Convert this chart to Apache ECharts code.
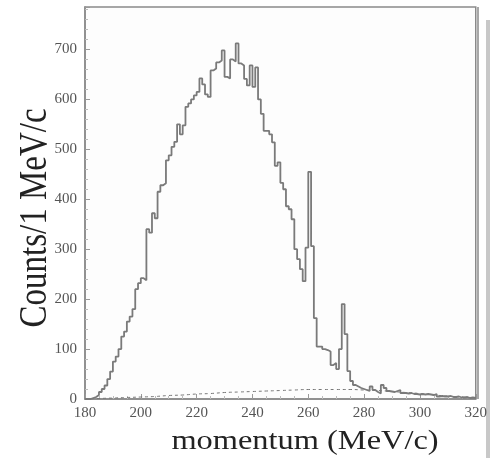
<!DOCTYPE html>
<html>
<head>
<meta charset="utf-8">
<script src="https://cdn.jsdelivr.net/npm/echarts@6/dist/echarts.min.js"></script>
<style>html,body{margin:0;padding:0;background:#fff}#c{width:490px;height:458px}</style>
</head>
<body>
<div id="c"></div>
<script>
// Histogram: 1 MeV/c bins starting at 180
var binStart = 180;
var counts = [
  0, 0, 2, 4, 8, 14, 20, 27, 40, 55,            // 180-189
  75, 85, 100, 125, 135, 155, 165, 180, 220, 232, // 190-199
  242, 238, 340, 333, 372, 362, 415, 428, 432, 478, // 200-209
  488, 505, 515, 550, 530, 548, 585, 592, 600, 608, // 210-219
  615, 642, 630, 610, 605, 658, 662, 674, 678, 698, // 220-229
  645, 642, 680, 676, 712, 672, 668, 641, 628, 668, // 230-239
  625, 664, 600, 571, 537, 537, 530, 514, 467, 474, // 240-249
  433, 420, 386, 380, 360, 300, 280, 260, 236, 303, // 250-259
  455, 306, 162, 105, 105, 100, 98, 95, 68, 72,     // 260-269
  60, 100, 190, 130, 56, 36, 28, 25, 22, 20,        // 270-279
  18, 16, 25, 18, 14, 11, 28, 22, 16, 15,           // 280-289
  14, 16, 18, 12, 12, 11, 12, 10, 10, 9,            // 290-299
  10, 9, 10, 9, 8, 10, 5, 6, 5, 5,                  // 300-309
  6, 4, 4, 5, 3, 3, 4, 2, 3, 2                      // 310-319
];
// Background estimate (dashed), read every 5 MeV/c
var bgX = [180,185,190,195,200,205,210,215,220,225,230,235,240,245,250,255,260,265,270,275,280,285,290,295,300,305,310,315,320];
var bgY = [0,1,2,3,4,5,7,8,10,11,13,14,15,16,17,18,19,19,19,19,18,17,15,13,11,8,6,4,2];
var xTicks = [180,200,220,240,260,280,300,320];
var yTicks = [0,100,200,300,400,500,600,700];

var histData = counts.map(function(v,i){return [binStart+i, v];});
histData.push([binStart+counts.length, counts[counts.length-1]]);
var bgData = bgX.map(function(x,i){return [x, bgY[i]];});

var serif = '"Liberation Serif","DejaVu Serif",serif';
var chart = echarts.init(document.getElementById('c'), null, {renderer:'canvas'});
chart.setOption({
  animation:false,
  backgroundColor:'#ffffff',
  grid:{left:85, right:12, top:7, bottom:59, show:true, borderColor:'#8a8a8a', borderWidth:1.5, backgroundColor:'#fdfdfd'},
  xAxis:{
    type:'value', min:xTicks[0], max:xTicks[xTicks.length-1], interval:20,
    axisLine:{show:true, lineStyle:{color:'#8a8a8a', width:1.5}},
    axisTick:{show:true, inside:true, length:5, lineStyle:{color:'#999'}},
    minorTick:{show:true, splitNumber:4, length:3, lineStyle:{color:'#bbb'}},
    splitLine:{show:false},
    axisLabel:{color:'#555', fontFamily:serif, fontSize:15, margin:7,
      formatter:function(v){return xTicks.indexOf(v)>=0 ? String(v) : '';}}
  },
  yAxis:{
    type:'value', min:0, max:785, interval:100,
    axisLine:{show:true, lineStyle:{color:'#8a8a8a', width:1.5}},
    axisTick:{show:true, inside:true, length:5, lineStyle:{color:'#999'}},
    minorTick:{show:true, splitNumber:5, length:3, lineStyle:{color:'#bbb'}},
    splitLine:{show:false},
    axisLabel:{color:'#555', fontFamily:serif, fontSize:15, margin:8, showMaxLabel:false,
      formatter:function(v){return yTicks.indexOf(v)>=0 ? String(v) : '';}}
  },
  series:[
    {type:'line', data:bgData, smooth:true, symbol:'none',
     lineStyle:{color:'#777', width:1, type:[3,3]}, z:2},
    {type:'line', data:histData, step:'end', symbol:'none',
     lineStyle:{color:'#7a7a7a', width:1.8}, z:3}
  ],
  graphic:[
    {type:'rect', left:486, top:20, shape:{width:4, height:438}, style:{fill:'#c8c8c8'}, silent:true},
    {type:'rect', left:477, top:7, shape:{width:2, height:392}, style:{fill:'#a8a8a8'}, silent:true},
    {type:'text', x:36, y:218, rotation:Math.PI/2, scaleY:1.2,
     style:{text:'Counts/1 MeV/c', font:'33px '+serif, fill:'#222', textAlign:'center', textVerticalAlign:'middle'}},
    {type:'text', x:305, y:442, scaleX:1.2,
     style:{text:'momentum (MeV/c)', font:'27px '+serif, fill:'#222', textAlign:'center', textVerticalAlign:'middle'}}
  ]
});
</script>
</body>
</html>
